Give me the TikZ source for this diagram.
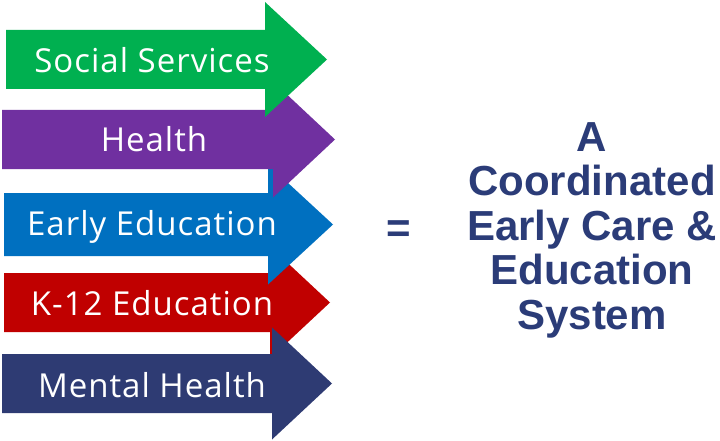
\documentclass[tikz,border=0pt]{standalone}
\usepackage{fontspec}
\newfontfamily\labelfont[LetterSpace=3]{Open Sans}
\newfontfamily\titlefont{Liberation Sans}
\usetikzlibrary{positioning}
\definecolor{ssgreen}{HTML}{00B050}
\definecolor{hpurple}{HTML}{7030A0}
\definecolor{eblue}{HTML}{0070C0}
\definecolor{kred}{HTML}{C00000}
\definecolor{mnavy}{HTML}{2E3B73}
\definecolor{titlenavy}{HTML}{2B3C78}
\tikzset{
	blabel/.style={text=white,inner sep=0pt,font=\labelfont\fontsize{33}{33}\selectfont},
	title/.style={text=titlenavy,align=center,inner sep=0pt,font=\titlefont\bfseries\fontsize{42}{44.5}\selectfont}}
\begin{document}
\begin{tikzpicture}[x=1pt,y=-1pt]
	\useasboundingbox (0,0) rectangle (720,441);
	% arrows, lowest first
	\fill[kred] (4,273) -- (270,273) -- (270,246.5) -- (330,302.5) -- (270,358.5) -- (270,332) -- (4,332) -- cycle;
	\fill[mnavy] (2,354) -- (272,354) -- (272,327.5) -- (332,383.5) -- (272,439.5) -- (272,413) -- (2,413) -- cycle;
	\fill[eblue] (4,193) -- (268,193) -- (268,164.5) -- (333,224.5) -- (268,284.5) -- (268,256) -- (4,256) -- cycle;
	\fill[hpurple] (2,110) -- (273,110) -- (273,81.5) -- (335,139.5) -- (273,197.5) -- (273,169) -- (2,169) -- cycle;
	\fill[ssgreen] (6,30) -- (265,30) -- (265,2) -- (327,59.5) -- (265,117) -- (265,89) -- (6,89) -- cycle;
	\node (social) at (152,73) [blabel,anchor=base] {Social Services};
	\node (health) at (154,152) [blabel,anchor=base] {Health};
	\node (early) at (152,235) [blabel,anchor=base] {Early Education};
	\node (k12) at (152,315) [blabel,anchor=base] {K-12 Education};
	\node (mental) at (152,397) [blabel,anchor=base] {Mental Health};
	\node (equals) at (399,232) [title] {=};
	\node (system) at (592,122) [title,anchor=north] {A\\Coordinated\\Early Care \&\\Education\\System};
\end{tikzpicture}
\end{document}
